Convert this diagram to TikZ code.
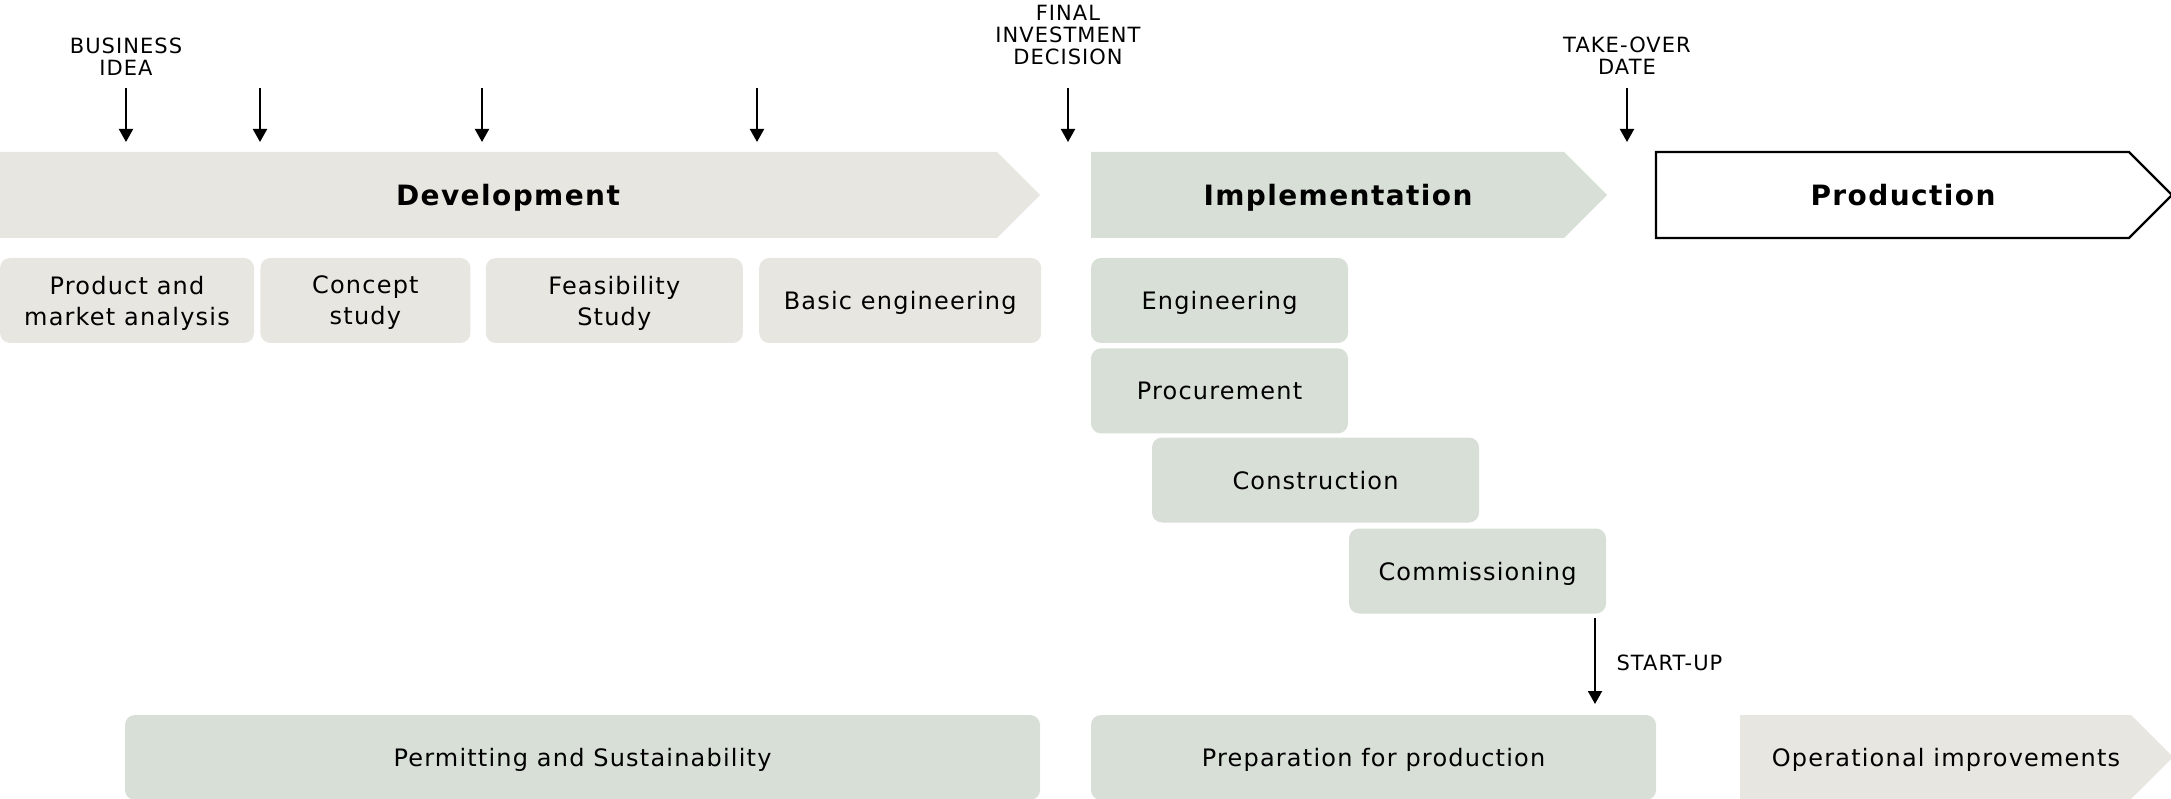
\documentclass[tikz,border=0pt]{standalone}
\usepackage{fontspec}
\setmainfont{DejaVu Sans}[LetterSpace=5]
\usepackage{xcolor}
\usepackage{tikz}
\usetikzlibrary{arrows.meta, positioning}

\definecolor{devfill}{HTML}{E8E6E0}
\definecolor{impfill}{HTML}{D8DFD7}

\begin{document}
\begin{tikzpicture}[
        x=1pt, y=-1pt,
        node distance=5pt and 6pt,
        devstage/.style={rectangle, fill=devfill, rounded corners=10pt, minimum height=85pt, inner sep=0pt, text depth=0pt, align=center, font=\fontsize{24}{31}\selectfont},
        impstage/.style={rectangle, fill=impfill, rounded corners=10pt, minimum height=85pt, inner sep=0pt, text depth=0pt, align=center, font=\fontsize{24}{31}\selectfont},
        phase/.style={text depth=0pt, font=\bfseries\fontsize{28}{34}\selectfont},
        mile/.style={align=center, font=\fontsize{21}{22}\selectfont},
        marker/.style={-{Triangle[length=13pt,width=14pt]}, line width=2pt},
    ]
        \useasboundingbox (0,0) rectangle (2171,799);

        % Phase bars
        \fill[devfill] (0,152) -- (997,152) -- (1040,195) -- (997,238) -- (0,238) -- cycle;
        \fill[impfill] (1091,152) -- (1564,152) -- (1607,195) -- (1564,238) -- (1091,238) -- cycle;
        \draw[fill=white, line width=2.4pt] (1656,152) -- (2129,152) -- (2172,195) -- (2129,238) -- (1656,238) -- cycle;
        \node[phase] (dev) at (508,195) {Development};
        \node[phase] (imp) at (1338,195) {Implementation};
        \node[phase] (prod) at (1903,195) {Production};

        % Milestones
        \node[mile] (idea) at (126,57) {BUSINESS\\IDEA};
        \node[mile] (fid) at (1068,35) {FINAL\\INVESTMENT\\DECISION};
        \node[mile] (takeover) at (1627,56) {TAKE-OVER\\DATE};

        \coordinate (m1a) at (126,88);  \coordinate (m1b) at (126,142);
        \coordinate (m2a) at (260,88);  \coordinate (m2b) at (260,142);
        \coordinate (m3a) at (482,88);  \coordinate (m3b) at (482,142);
        \coordinate (m4a) at (757,88);  \coordinate (m4b) at (757,142);
        \coordinate (m5a) at (1068,88); \coordinate (m5b) at (1068,142);
        \coordinate (m6a) at (1627,88); \coordinate (m6b) at (1627,142);

        % Development steps
        \node[devstage, minimum width=254pt] (market) at (127,300.5) {Product and\\market analysis};
        \node[devstage, minimum width=210pt, right=6pt of market] (concept) {Concept\\study};
        \node[devstage, minimum width=257pt, right=15pt of concept] (feas) {Feasibility\\Study};
        \node[devstage, minimum width=282pt, right=16pt of feas] (basic) {Basic engineering};

        % Implementation steps
        \node[impstage, minimum width=257pt] (eng) at (1219.5,300.5) {Engineering};
        \node[impstage, minimum width=257pt, below=5pt of eng] (proc) {Procurement};
        \node[impstage, minimum width=327pt] (constr) at (1315.5,480) {Construction};
        \node[impstage, minimum width=257pt] (comm) at (1477.5,571) {Commissioning};

        % Bottom row
        \node[impstage, minimum width=915pt] (permit) at (582.5,757.5) {Permitting and Sustainability};
        \node[impstage, minimum width=565pt] (prep) at (1373.5,757.5) {Preparation for production};
        \fill[devfill] (1740,715) -- (2131,715) -- (2173,757) -- (2131,799) -- (1740,799) -- cycle;
        \node[text depth=0pt, font=\fontsize{24}{31}\selectfont] (oper) at (1946,757) {Operational improvements};

        \coordinate (su1) at (1595,618);
        \coordinate (su2) at (1595,704);
        \node[mile, anchor=west] (startup) at (1613,663) {START-UP};

        % Arrows
        \draw[marker] (m1a) -- (m1b);
        \draw[marker] (m2a) -- (m2b);
        \draw[marker] (m3a) -- (m3b);
        \draw[marker] (m4a) -- (m4b);
        \draw[marker] (m5a) -- (m5b);
        \draw[marker] (m6a) -- (m6b);
        \draw[marker] (su1) -- (su2);
    \end{tikzpicture}
\end{document}
